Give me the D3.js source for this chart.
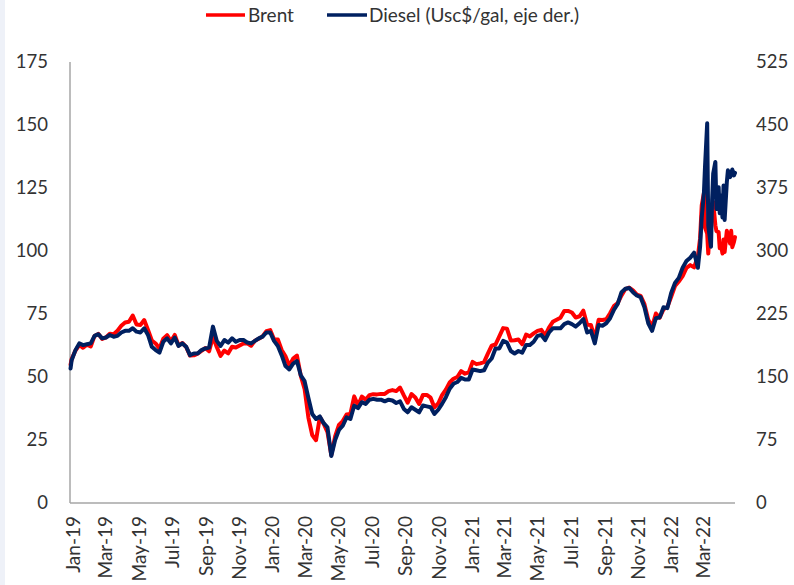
<!DOCTYPE html>
<html>
<head>
<meta charset="utf-8">
<script src="https://cdn.jsdelivr.net/npm/d3@7/dist/d3.min.js"></script>
<style>
  html, body { margin: 0; padding: 0; background: #ffffff; }
  svg { display: block; }
  text { font-family: Lato, "Open Sans", sans-serif; fill: #333333; }
</style>
</head>
<body>
<svg id="chart" width="794" height="585"></svg>
<script>
// ---------------- DATA ----------------
const seriesNames = ["Brent", "Diesel (Usc$/gal, eje der.)"];
const leftTicks = [0, 25, 50, 75, 100, 125, 150, 175];
const rightTicks = [0, 75, 150, 225, 300, 375, 450, 525];
const xTickLabels = ["Jan-19","Mar-19","May-19","Jul-19","Sep-19","Nov-19",
  "Jan-20","Mar-20","May-20","Jul-20","Sep-20","Nov-20",
  "Jan-21","Mar-21","May-21","Jul-21","Sep-21","Nov-21",
  "Jan-22","Mar-22"];

// first observation
const startDate = "2019-01-02";
const brentStart = 54.9;
const dieselStart = 160;

// weekly observations (Fridays) starting 2019-01-04
const weeklyStart = "2019-01-04";
const brent2019 = [57.1, 60.5, 62.7, 61.6, 62.8, 62.1, 66.3, 67.1, 65.1, 65.7, 67.2, 67.0, 68.4, 70.3, 71.6, 71.9, 74.4, 70.8, 70.6, 72.6, 68.7, 64.5, 63.3, 61.3, 65.2, 66.6, 64.2, 66.7, 62.5, 63.5, 61.9, 58.5, 58.6, 59.3, 60.4, 61.5, 60.2, 66.0, 61.9, 58.4, 60.5, 59.4, 62.0, 61.7, 62.5, 63.3, 63.4, 62.4, 64.4, 65.2, 66.1, 68.2];
const diesel2019 = [170, 182, 190, 188, 189, 190, 199, 201, 196, 197, 200, 198, 199, 203, 205, 205, 208, 204, 203, 208, 200, 186, 182, 179, 192, 196, 190, 197, 187, 190, 186, 176, 178, 178, 182, 184, 185, 210, 193, 187, 194, 191, 196, 192, 194, 194, 191, 190, 193, 196, 198, 203];
const brent2020 = [68.6, 65.0, 64.9, 60.7, 58.2, 54.5, 57.3, 58.5, 50.5, 45.3, 33.9, 27.0, 24.9, 34.1, 31.5, 28.1, 19.0, 26.4, 31.0, 32.5, 35.1, 35.3, 42.3, 38.7, 42.2, 41.0, 42.8, 43.2, 43.1, 43.3, 43.3, 44.4, 44.8, 44.4, 45.8, 42.7, 39.8, 43.2, 41.9, 39.3, 42.9, 42.9, 41.8, 37.9, 39.5, 42.8, 45.0, 47.8, 49.3, 50.0, 52.3, 51.3];
const diesel2020 = [203, 193, 187, 176, 163, 159, 166, 169, 152, 145, 125, 106, 100, 103, 95, 90, 56, 75, 87, 92, 102, 100, 116, 113, 120, 118, 123, 124, 123, 123, 121, 123, 122, 119, 121, 112, 108, 114, 111, 108, 116, 115, 114, 106, 111, 118, 126, 136, 142, 144, 149, 147];
const brent2021 = [51.8, 56.0, 55.1, 55.4, 55.9, 59.3, 62.4, 62.9, 66.1, 69.4, 69.2, 64.5, 64.6, 64.9, 63.0, 66.8, 66.1, 67.3, 68.3, 68.7, 66.4, 69.6, 71.9, 72.7, 73.5, 76.2, 76.2, 75.6, 73.6, 74.1, 76.3, 70.7, 70.6, 65.2, 72.7, 72.6, 72.9, 75.3, 78.1, 79.3, 82.4, 84.9, 85.5, 84.4, 82.7, 82.2, 78.9, 72.7, 69.9, 75.2, 73.5, 76.9, 77.8];
const diesel2021 = [147, 159, 158, 157, 158, 167, 172, 184, 184, 193, 191, 181, 178, 181, 179, 188, 188, 192, 199, 200, 194, 203, 208, 208, 208, 213, 215, 213, 210, 214, 219, 203, 205, 190, 212, 211, 214, 220, 230, 237, 251, 255, 256, 251, 247, 245, 233, 214, 205, 220, 221, 233, 232];
const brent2022 = [81.8, 86.1, 87.9, 90.0, 93.3, 94.4, 93.5, 97.9];
const diesel2022 = [250, 262, 268, 280, 288, 292, 298, 280];

// denser observations, March - May 2022
const lateDates = ["2022-03-01","2022-03-04","2022-03-08","2022-03-10","2022-03-14","2022-03-16","2022-03-21","2022-03-23","2022-03-25","2022-03-29","2022-03-31","2022-04-04","2022-04-06","2022-04-08","2022-04-11","2022-04-13","2022-04-15","2022-04-19","2022-04-21","2022-04-25","2022-04-27","2022-04-29","2022-05-02","2022-05-04"];
const brentLate = [105.0, 118.1, 123.0, 109.3, 106.9, 99.0, 115.6, 118.0, 119.5, 110.2, 107.9, 107.5, 101.1, 102.8, 99.0, 104.6, 99.6, 108.0, 106.3, 103.0, 108.0, 101.5, 103.5, 105.5];
const dieselLate = [305, 340, 369, 400, 452, 330, 305, 360, 392, 406, 350, 376, 345, 366, 340, 378, 337, 382, 396, 388, 392, 397, 390, 393];

const axisStart = "2019-01-01";
const axisEnd = "2022-05-04";

// ---------------- BUILD ----------------
const parse = d3.timeParse("%Y-%m-%d");
const parseLabel = d3.timeParse("%b-%y");

const brentWeekly = [...brent2019, ...brent2020, ...brent2021, ...brent2022];
const dieselWeekly = [...diesel2019, ...diesel2020, ...diesel2021, ...diesel2022];
const w0 = parse(weeklyStart);

const data = [{ date: parse(startDate), b: brentStart, d: dieselStart }];
brentWeekly.forEach((v, i) => data.push({ date: d3.timeDay.offset(w0, 7 * i), b: v, d: dieselWeekly[i] }));
lateDates.forEach((s, i) => data.push({ date: parse(s), b: brentLate[i], d: dieselLate[i] }));

const svg = d3.select("#chart");

// faint edge strip seen in the reference
svg.append("rect").attr("x", 0).attr("y", 0).attr("width", 5).attr("height", 585).attr("fill", "#eef1f8");

const x = d3.scaleTime().domain([parse(axisStart), parse(axisEnd)]).range([70, 735]);
const yL = d3.scaleLinear().domain([0, 175]).range([503, 62]);
const yR = d3.scaleLinear().domain([0, 525]).range([503, 62]);

// left axis
const gL = svg.append("g").attr("transform", "translate(70,0)")
  .call(d3.axisLeft(yL).tickValues(leftTicks).tickSize(0).tickPadding(22));
gL.select(".domain").remove();
gL.selectAll("text").style("font-size", "18.5px").attr("fill", "#333333");
svg.append("line").attr("x1", 70).attr("x2", 70).attr("y1", yL(175)).attr("y2", yL(0))
  .attr("stroke", "#a6a6a6").attr("stroke-width", 1.5);

// right axis
const gR = svg.append("g").attr("transform", "translate(735,0)")
  .call(d3.axisRight(yR).tickValues(rightTicks).tickSize(0).tickPadding(21));
gR.select(".domain").remove();
gR.selectAll("text").style("font-size", "18.5px").attr("fill", "#333333");

// bottom axis
const gX = svg.append("g").attr("transform", "translate(0,503)")
  .call(d3.axisBottom(x).tickValues(xTickLabels.map(parseLabel)).tickSize(0).tickFormat(d3.timeFormat("%b-%y")));
gX.select(".domain").remove();
gX.selectAll("text")
  .style("font-size", "19px")
  .attr("fill", "#333333")
  .attr("text-anchor", "end")
  .attr("transform", "translate(3,13) rotate(-90)")
  .attr("x", 0).attr("y", 0).attr("dy", "0.35em");
svg.append("line").attr("x1", 70).attr("x2", 735).attr("y1", 503).attr("y2", 503)
  .attr("stroke", "#a6a6a6").attr("stroke-width", 1.5);

// lines
const lineB = d3.line().x(d => x(d.date)).y(d => yL(d.b));
const lineD = d3.line().x(d => x(d.date)).y(d => yR(d.d));
svg.append("path").datum(data).attr("d", lineB)
  .attr("fill", "none").attr("stroke", "#ff0000").attr("stroke-width", 4)
  .attr("stroke-linejoin", "round").attr("stroke-linecap", "round");
svg.append("path").datum(data).attr("d", lineD)
  .attr("fill", "none").attr("stroke", "#002060").attr("stroke-width", 4)
  .attr("stroke-linejoin", "round").attr("stroke-linecap", "round");

// legend
const legend = [
  { name: seriesNames[0], color: "#ff0000", x1: 206, x2: 245, tx: 248 },
  { name: seriesNames[1], color: "#002060", x1: 327, x2: 367, tx: 369 }
];
const lg = svg.append("g");
legend.forEach(l => {
  lg.append("line").attr("x1", l.x1).attr("x2", l.x2).attr("y1", 15).attr("y2", 15)
    .attr("stroke", l.color).attr("stroke-width", 3.5);
  lg.append("text").attr("x", l.tx).attr("y", 21.5).style("font-size", "19px").text(l.name);
});
</script>
</body>
</html>
